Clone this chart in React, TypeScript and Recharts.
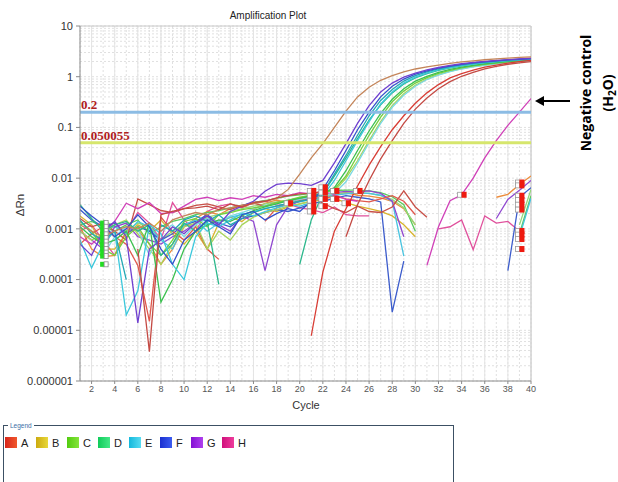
import React from 'react';
import {
  ComposedChart,
  Line,
  Scatter,
  XAxis,
  YAxis,
  CartesianGrid,
  ReferenceLine,
} from 'recharts';

const _ = null;

const cycles = [
  1, 2, 3, 4, 5, 6, 7, 8, 9, 10, 11, 12, 13, 14, 15, 16, 17, 18, 19, 20,
  21, 22, 23, 24, 25, 26, 27, 28, 29, 30, 31, 32, 33, 34, 35, 36, 37, 38, 39, 40,
];
const xTicks = [2, 4, 6, 8, 10, 12, 14, 16, 18, 20, 22, 24, 26, 28, 30, 32, 34, 36, 38, 40];
const yTicks = [0.000001, 0.00001, 0.0001, 0.001, 0.01, 0.1, 1, 10];
const thresholdValues = [0.2, 0.050055];
const thresholdLabels = ['0.2', '0.050055'];

// amplifying wells
const brownCurve = [
  0.0012, 0.0009, 0.0007, 0.0009, 0.0011, 0.001, 0.0013, 0.0009, 0.0015, 0.0018,
  0.0021, 0.0019, 0.0024, 0.0026, 0.0029, 0.0031, 0.0035, 0.004, 0.006, 0.012,
  0.025, 0.048, 0.1, 0.21, 0.4, 0.62, 0.85, 1.05, 1.25, 1.42,
  1.56, 1.7, 1.84, 1.96, 2.06, 2.16, 2.25, 2.33, 2.4, 2.46,
];
const purpleCurve = [
  0.0005, 0.0003, 0.0009, 0.0014, 0.0007, 0.000014, 0.0004, 0.0006, 0.0011, 0.0008,
  0.0013, 0.0018, 0.0012, 0.0022, 0.0028, 0.0035, 0.0055, 0.0075, 0.008, 0.0078,
  0.0072, 0.009, 0.02, 0.048, 0.12, 0.27, 0.5, 0.75, 0.98, 1.18,
  1.36, 1.52, 1.67, 1.8, 1.91, 2.01, 2.1, 2.18, 2.25, 2.31,
];
const blueCurve = [
  0.0028, 0.0018, 0.0012, 0.0007, 0.001, 0.0019, 0.0011, 0.0004, 0.0002, 0.0006,
  0.0009, 0.0015, 0.0011, 0.0008, 0.0019, 0.0022, 0.0015, 0.002, 0.0025, 0.0022,
  0.0035, 0.006, 0.014, 0.035, 0.09, 0.2, 0.4, 0.65, 0.9, 1.12,
  1.3, 1.47, 1.62, 1.75, 1.87, 1.97, 2.06, 2.14, 2.21, 2.27,
];
const tealCurve = [
  0.0015, 0.0008, 0.0006, 0.0009, 0.0001, _, _, 0.0012, 0.0009, 0.0015,
  0.0018, 0.0014, 0.0019, 0.0012, 0.0016, 0.0021, 0.0025, 0.0028, 0.0032, 0.0035,
  0.0038, 0.005, 0.012, 0.028, 0.07, 0.17, 0.34, 0.56, 0.82, 1.05,
  1.25, 1.42, 1.58, 1.72, 1.84, 1.95, 2.04, 2.12, 2.2, 2.26,
];
const cyanCurve = [
  0.0006, 0.00017, 0.0005, 0.0009, 0.00002, 0.00006, 0.0012, 0.0008, 0.0002, 0.0001,
  0.0007, 0.0013, 0.0011, 0.0015, 0.002, 0.0018, 0.0022, 0.0026, 0.003, 0.0028,
  0.0033, 0.0045, 0.009, 0.022, 0.055, 0.13, 0.29, 0.5, 0.75, 0.98,
  1.18, 1.36, 1.52, 1.66, 1.78, 1.9, 1.99, 2.08, 2.15, 2.22,
];
const seaGreenCurve = [
  0.003, 0.0016, 0.0009, 0.0012, 0.0014, 0.0009, 0.0012, 0.0003, 0.0005, 0.0013,
  0.0009, 0.0014, 0.00008, _, _, _, _, _, _, 0.0002,
  0.0015, 0.005, 0.011, 0.025, 0.06, 0.14, 0.28, 0.48, 0.72, 0.95,
  1.15, 1.33, 1.5, 1.64, 1.77, 1.88, 1.98, 2.06, 2.14, 2.2,
];
const greenCurve = [
  0.0011, 0.0007, 0.0005, 0.0006, 0.0009, 0.0003, 0.0013, 0.000036, 0.0001, 0.0004,
  0.0009, 0.0012, 0.0015, 0.0014, 0.0018, 0.0023, 0.0027, 0.0031, 0.0036, 0.004,
  0.0045, 0.005, 0.0065, 0.014, 0.035, 0.085, 0.19, 0.36, 0.58, 0.82,
  1.02, 1.22, 1.4, 1.55, 1.68, 1.8, 1.9, 2.0, 2.08, 2.15,
];
const limeCurve = [
  0.0014, 0.0009, 0.0004, 0.0003, 0.0007, 0.0011, 0.0005, 0.0003, 0.0006, 0.0014,
  0.0016, 0.0011, 0.0019, 0.0021, 0.0024, 0.0026, 0.0028, 0.0033, 0.0037, 0.0042,
  0.0046, 0.005, 0.006, 0.011, 0.028, 0.07, 0.16, 0.32, 0.52, 0.75,
  0.96, 1.16, 1.34, 1.5, 1.63, 1.75, 1.86, 1.96, 2.04, 2.12,
];
const yellowGreenCurve = [
  0.0009, 0.0006, 0.0008, 0.0012, 0.0015, 0.0008, 0.0004, 0.0002, 0.0005, 0.0011,
  0.0013, 0.0004, 0.0009, 0.0006, 0.0012, 0.0017, 0.0021, 0.0024, 0.0028, 0.0031,
  0.0035, 0.004, 0.0055, 0.01, 0.022, 0.055, 0.13, 0.27, 0.46, 0.68,
  0.9, 1.1, 1.28, 1.44, 1.58, 1.7, 1.82, 1.92, 2.0, 2.08,
];
const lightCyanCurve = [
  _, _, 0.0003, 0.0007, 0.0011, 0.001, 0.0003, 0.0009, 0.0012, 0.0007,
  0.0012, 0.0016, 0.0014, 0.0018, 0.0021, 0.0025, 0.0029, 0.0032, 0.0035, 0.0038,
  0.0042, 0.0046, 0.005, 0.0085, 0.02, 0.05, 0.12, 0.25, 0.43, 0.65,
  0.88, 1.08, 1.26, 1.42, 1.56, 1.68, 1.8, 1.9, 1.98, 2.06,
];
const redCurve = [
  _, _, _, _, _, _, _, _, _, _,
  _, _, _, _, _, _, _, _, _, _,
  0.0000078, 0.00014, 0.0009, 0.0025, 0.007, 0.018, 0.042, 0.09, 0.17, 0.3,
  0.48, 0.7, 0.95, 1.15, 1.35, 1.55, 1.7, 1.85, 1.98, 2.1,
];
const darkRedCurve = [
  _, _, _, _, _, 0.0004, 0.0000038, 0.0019, 0.0022, 0.0025,
  0.0026, 0.0028, 0.0024, 0.0031, 0.0027, 0.0033, 0.0035, 0.0041, 0.0045, 0.0049,
  0.005, 0.0055, _, 0.0007, 0.003, 0.009, 0.024, 0.055, 0.12, 0.23,
  0.38, 0.58, 0.8, 1.02, 1.22, 1.42, 1.6, 1.76, 1.88, 1.98,
];
// negative control (H2O)
const magentaCurve = [
  0.0007, 0.0005, 0.0008, 0.0014, 0.0032, 0.0025, 0.0033, 0.002, 0.0021, 0.0028,
  0.0038, 0.0042, 0.0036, 0.0041, 0.0038, 0.0045, 0.0042, 0.0048, 0.0045, 0.0052,
  0.0049, 0.0055, 0.0047, 0.0038, 0.0035, _, _, _, _, _,
  0.00019, 0.0011, 0.0036, 0.0047, 0.01, 0.025, 0.055, 0.11, 0.2, 0.37,
];
// background / non-amplifying traces
const pinkTrace = [
  0.0009, 0.0012, 0.0006, 0.0003, 0.0009, 0.0021, 0.0013, 0.0006, 0.0033, 0.0015,
  0.0009, 0.0022, 0.0028, 0.0031, 0.0026, 0.0033, 0.0036, 0.0029, 0.0031, 0.0026,
  0.0024, 0.0021, 0.0027, 0.0019, 0.0018, 0.0018, _, _, _, _,
  _, 0.001, 0.0011, 0.0015, 0.00039, 0.0018, 0.0013, 0.0014, 0.0009, _,
];
const orangeTrace = [
  0.0011, 0.0004, 0.00028, 0.0003, 0.0009, 0.00095, 0.0005, 0.0002, 0.0004, 0.0011,
  0.0016, 0.0022, 0.0019, 0.0025, 0.0029, 0.0024, 0.0032, 0.0037, 0.0033, 0.0041,
  0.0045, 0.0039, 0.0048, 0.0052, 0.0046, 0.0044, 0.0041, 0.0035, 0.0025, 0.0012,
  _, _, _, _, _, _, 0.0042, 0.0048, 0.0075, 0.011,
];
const goldTrace = [
  0.0018, 0.0012, 0.0004, 0.0004, 0.0008, 0.0012, 0.0009, 0.0015, 0.0008, 0.0005,
  0.0009, 0.0004, 0.0013, 0.0017, 0.0014, 0.0021, 0.0025, 0.0022, 0.0027, 0.0031,
  0.0035, 0.0037, 0.004, 0.0033, 0.0028, 0.0025, 0.0022, 0.0018, 0.0012, 0.0007,
  _, _, _, _, _, _, _, _, _, _,
];
const greenHumpTrace = [
  0.0012, 0.0014, 0.0011, 0.0009, 0.0012, 0.0015, 0.0008, 0.0011, 0.0014, 0.0016,
  0.0019, 0.0021, 0.0023, 0.0026, 0.0029, 0.0033, 0.0036, 0.004, 0.0044, 0.0047,
  0.005, 0.0054, 0.0057, 0.0058, 0.0058, 0.0056, 0.0052, 0.0043, 0.003, 0.0009,
  _, _, _, _, _, _, _, _, 0.0008, 0.0045,
];
const paleGreenTrace = [
  _, _, 0.0015, 0.0011, 0.0009, 0.0013, 0.0011, 0.0006, 0.0009, 0.0012,
  0.0014, 0.0017, 0.0019, 0.0022, 0.0025, 0.0028, 0.0031, 0.0034, 0.0037, 0.004,
  0.0043, 0.0046, 0.0049, 0.0051, 0.0052, 0.005, 0.0045, 0.0038, 0.0026, 0.0012,
  _, _, _, _, _, _, _, _, 0.0012, 0.006,
];
const blueDipTrace = [
  0.0024, 0.0015, 0.0011, 0.0013, 0.0008, 0.0011, 0.0009, 0.0006, 0.0008, 0.0012,
  0.0014, 0.0019, 0.0013, 0.0011, 0.0016, 0.0018, 0.0021, 0.0024, 0.0022, 0.0026,
  0.0031, 0.0035, 0.004, 0.0045, 0.0042, 0.0039, 0.0034, 0.0000227, 0.00023, _,
  _, _, _, _, _, _, _, 0.00015, 0.0042, 0.0065,
];
const cyanDropTrace = [
  _, _, 0.0009, 0.0011, 0.0008, 0.0014, 0.0011, 0.0006, 0.0004, 0.0012,
  0.0015, 0.0009, 0.0013, 0.0017, 0.0019, 0.0022, 0.0025, 0.0028, 0.0031, 0.0034,
  0.0038, 0.0042, 0.0046, 0.0049, 0.0051, 0.005, 0.0046, 0.0035, 0.00029, _,
  _, _, _, _, _, _, _, _, 0.0007, 0.004,
];
const violetTrace = [
  0.0009, 0.0006, 0.0004, 0.0011, 0.0013, 0.0007, 0.0006, 0.0005, 0.0007, 0.0009,
  0.0013, 0.0016, 0.0012, 0.0009, 0.0018, 0.0014, 0.00015, 0.0012, 0.0028, 0.0035,
  0.0041, 0.0048, 0.0052, 0.0055, 0.0053, 0.0056, 0.005, 0.0035, 0.0007, _,
  _, _, _, _, _, _, 0.0016, 0.0038, 0.0058, 0.009,
];
const redZigTrace = [
  0.0016, 0.0011, 0.0013, 0.0009, 0.0006, 0.0039, 0.003, 0.0023, 0.0021, 0.0025,
  0.0029, 0.0031, 0.0027, 0.0024, 0.0029, 0.0032, 0.0028, 0.0033, 0.0035, 0.0038,
  0.0045, 0.0032, 0.0025, 0.0021, 0.0028, 0.0022, 0.0021, 0.0027, 0.0056, 0.0027,
  0.0017, _, _, _, _, _, _, _, _, _,
];
const redTrace = [
  0.0005, 0.0008, 0.0011, 0.0007, 0.0005, 0.00019, 0.000015, 0.0017, 0.0009, 0.0006,
  0.0011, 0.0004, 0.00025, _, _, _, 0.0014, 0.0026, 0.0031, 0.0036,
  0.0042, 0.0038, 0.0045, 0.0039, 0.0036, 0.0034, 0.0039, 0.0045, 0.0035, 0.0019,
  _, _, _, _, _, _, _, _, _, _,
];

// baseline start (green) and end (red) markers
const startMarkerCycles = [3, 3, 3, 3, 3, 3, 3, 3, 3, 3, 3];
const startMarkerValues = [
  0.0013, 0.0011, 0.0009, 0.00078, 0.00066, 0.00056, 0.00047, 0.0004, 0.00034, 0.00029, 0.0002,
];
const endMarkerCycles = [
  19, 21, 21, 21, 21, 21, 22, 22, 22, 22, 23, 23, 24, 25, 34,
  39, 39, 39, 39, 39, 39, 39, 39, 39, 39,
];
const endMarkerValues = [
  0.0032, 0.0056, 0.0045, 0.0036, 0.0028, 0.0022, 0.0066, 0.0052, 0.0039, 0.0028,
  0.0056, 0.0039, 0.0032, 0.0056, 0.0047,
  0.0082, 0.0072, 0.0045, 0.0037, 0.003, 0.0024, 0.00091, 0.00077, 0.00063, 0.0004,
];

const legendNames = ['A', 'B', 'C', 'D', 'E', 'F', 'G', 'H'];
const legendFrom = ['#d8261c', '#ccaa10', '#52cc10', '#10cc5a', '#14b8dc', '#1a30d0', '#8410d4', '#d0107c'];
const legendTo = ['#f0582c', '#e8d83a', '#84e43a', '#44e888', '#58dcf2', '#3c5cf0', '#b040ee', '#ee3c9c'];

const series = [
  { key: 'pink', color: '#e0509c', values: pinkTrace },
  { key: 'orange', color: '#ec8c3c', values: orangeTrace },
  { key: 'gold', color: '#d8b42c', values: goldTrace },
  { key: 'greenHump', color: '#58cc5c', values: greenHumpTrace },
  { key: 'paleGreen', color: '#94d878', values: paleGreenTrace },
  { key: 'blueDip', color: '#3c5ccc', values: blueDipTrace },
  { key: 'cyanDrop', color: '#48c4e0', values: cyanDropTrace },
  { key: 'violet', color: '#9048d0', values: violetTrace },
  { key: 'redZig', color: '#c85048', values: redZigTrace },
  { key: 'red2', color: '#e0584c', values: redTrace },
  { key: 'magenta', color: '#d040b8', values: magentaCurve },
  { key: 'yellowGreen', color: '#a8d45c', values: yellowGreenCurve },
  { key: 'lightCyan', color: '#7cd8e4', values: lightCyanCurve },
  { key: 'lime', color: '#74d03c', values: limeCurve },
  { key: 'green', color: '#3cc050', values: greenCurve },
  { key: 'seaGreen', color: '#2cb88c', values: seaGreenCurve },
  { key: 'cyan', color: '#3cc8dc', values: cyanCurve },
  { key: 'teal', color: '#22a8b4', values: tealCurve },
  { key: 'blue', color: '#3450cc', values: blueCurve },
  { key: 'purple', color: '#7040d0', values: purpleCurve },
  { key: 'brown', color: '#c4855a', values: brownCurve },
  { key: 'red', color: '#d83c34', values: redCurve },
  { key: 'darkRed', color: '#c44a44', values: darkRedCurve },
];

const rows = cycles.map((c, i) => {
  const row: Record<string, number | null> = { cycle: c };
  series.forEach((s) => {
    row[s.key] = s.values[i];
  });
  return row;
});

const startMarkers = startMarkerCycles.map((c, i) => ({ cycle: c, value: startMarkerValues[i] }));
const endMarkers = endMarkerCycles.map((c, i) => ({ cycle: c, value: endMarkerValues[i] }));

// minor log grid (1..9 x each decade) and cycle grid
const minorY = yTicks
  .slice(0, -1)
  .flatMap((d) => [1, 2, 3, 4, 5, 6, 7, 8, 9].map((m) => m * d))
  .concat([10]);

const fmtLog = (v: number) => (v >= 1 ? String(v) : v.toFixed(Math.round(-Math.log10(v))));

const ThresholdLabel = ({ viewBox, text }: { viewBox?: { x: number; y: number }; text: string }) => {
  if (!viewBox) return null;
  return (
    <text
      x={viewBox.x + 1}
      y={viewBox.y - 3}
      fill="#b0201c"
      fontSize={13}
      fontWeight="bold"
      fontFamily='"Liberation Serif", "DejaVu Serif", serif'
    >
      {text}
    </text>
  );
};

const EndMarker = (props: { cx?: number; cy?: number }) => {
  const { cx = 0, cy = 0 } = props;
  return (
    <g>
      <rect x={cx - 4} y={cy - 2.5} width={4} height={5} fill="#fff" stroke="#9a9a9a" strokeWidth={0.8} />
      <rect x={cx} y={cy - 3} width={5} height={6} fill="#ee1a10" />
    </g>
  );
};

const StartMarker = (props: { cx?: number; cy?: number }) => {
  const { cx = 0, cy = 0 } = props;
  return (
    <g>
      <rect x={cx - 3} y={cy - 2.5} width={4} height={5} fill="#22dd22" />
      <rect x={cx + 1} y={cy - 2.5} width={4} height={5} fill="#fff" stroke="#8a8a8a" strokeWidth={0.8} />
    </g>
  );
};

const App = () => {
  return (
    <div
      style={{
        position: 'absolute',
        left: 0,
        top: 0,
        width: 618,
        height: 482,
        background: '#fff',
        overflow: 'hidden',
        fontFamily: '"Liberation Sans", Arial, sans-serif',
      }}
    >
      <ComposedChart width={618} height={420} data={rows} margin={{ top: 26, right: 87, bottom: 19, left: 0 }}>
        <CartesianGrid horizontalValues={minorY} verticalValues={cycles} stroke="#e0e0e0" strokeDasharray="2 2" />
        <CartesianGrid horizontal={false} verticalValues={xTicks} stroke="#e4e4e4" />
        <XAxis
          type="number"
          dataKey="cycle"
          domain={[1, 40]}
          ticks={xTicks}
          interval={0}
          allowDataOverflow
          height={20}
          tickSize={3}
          tickMargin={2}
          tick={{ fontSize: 9, fill: '#555' }}
          axisLine={{ stroke: '#8a8a8a' }}
          tickLine={{ stroke: '#8a8a8a' }}
        />
        <YAxis
          scale="log"
          domain={[0.000001, 10]}
          ticks={yTicks}
          interval={0}
          allowDataOverflow
          width={80}
          tickFormatter={fmtLog}
          tickSize={4}
          tickMargin={3}
          tick={{ fontSize: 11, fill: '#333' }}
          axisLine={{ stroke: '#8a8a8a' }}
          tickLine={{ stroke: '#8a8a8a' }}
        />
        <ReferenceLine y={10} stroke="#c8c8c8" />
        <ReferenceLine x={40} stroke="#c8c8c8" />
        {series.map((s) => (
          <Line
            key={s.key}
            dataKey={s.key}
            type="linear"
            stroke={s.color}
            strokeWidth={1.3}
            dot={false}
            activeDot={false}
            connectNulls={false}
            isAnimationActive={false}
          />
        ))}
        <ReferenceLine
          y={thresholdValues[0]}
          stroke="#8cbce4"
          strokeWidth={3}
          label={<ThresholdLabel text={thresholdLabels[0]} />}
        />
        <ReferenceLine
          y={thresholdValues[1]}
          stroke="#d6e66c"
          strokeWidth={3}
          label={<ThresholdLabel text={thresholdLabels[1]} />}
        />
        <Scatter data={startMarkers} dataKey="value" shape={<StartMarker />} isAnimationActive={false} />
        <Scatter data={endMarkers} dataKey="value" shape={<EndMarker />} isAnimationActive={false} />
      </ComposedChart>

      <svg
        width={618}
        height={482}
        style={{ position: 'absolute', left: 0, top: 0, pointerEvents: 'none' }}
      >
        <text x={268} y={19} textAnchor="middle" fontSize={10} fill="#222">
          Amplification Plot
        </text>
        <text x={24} y={205} textAnchor="middle" fontSize={11.5} fill="#333" transform="rotate(-90, 24, 205)">
          ΔRn
        </text>
        <text x={306} y={409} textAnchor="middle" fontSize={11} fill="#333">
          Cycle
        </text>

        <line x1={570} y1={101} x2={541} y2={101} stroke="#000" strokeWidth={2} />
        <polygon points="535,101 544,96 544,106" fill="#000" />
        <g fontFamily='"Open Sans", "Noto Sans", sans-serif' fontWeight="bold" fontSize={14} fill="#000">
          <text x={591} y={93} textAnchor="middle" transform="rotate(-90, 591, 93)">
            Negative control
          </text>
          <text x={613} y={93} textAnchor="middle" transform="rotate(-90, 613, 93)">
            (H<tspan fontSize={10} dy={3}>2</tspan>
            <tspan dy={-3}>O)</tspan>
          </text>
        </g>

        <defs>
          {legendNames.map((n, i) => (
            <linearGradient key={n} id={`lg-${n}`} x1="0" y1="0" x2="1" y2="0">
              <stop offset="0%" stopColor={legendFrom[i]} />
              <stop offset="100%" stopColor={legendTo[i]} />
            </linearGradient>
          ))}
        </defs>
        <rect x={3.5} y={425.5} width={450} height={70} fill="none" stroke="#3c5064" />
        <rect x={8} y={420} width={26} height={10} fill="#fff" />
        <text x={10} y={428} fontSize={6.5} fill="#3a6ea5">
          Legend
        </text>
        {legendNames.map((n, i) => (
          <g key={n}>
            <rect x={5 + i * 31} y={437} width={12} height={11} fill={`url(#lg-${n})`} />
            <text x={21 + i * 31} y={447} fontSize={11} fill="#222">
              {n}
            </text>
          </g>
        ))}
      </svg>
    </div>
  );
};

export default App;
